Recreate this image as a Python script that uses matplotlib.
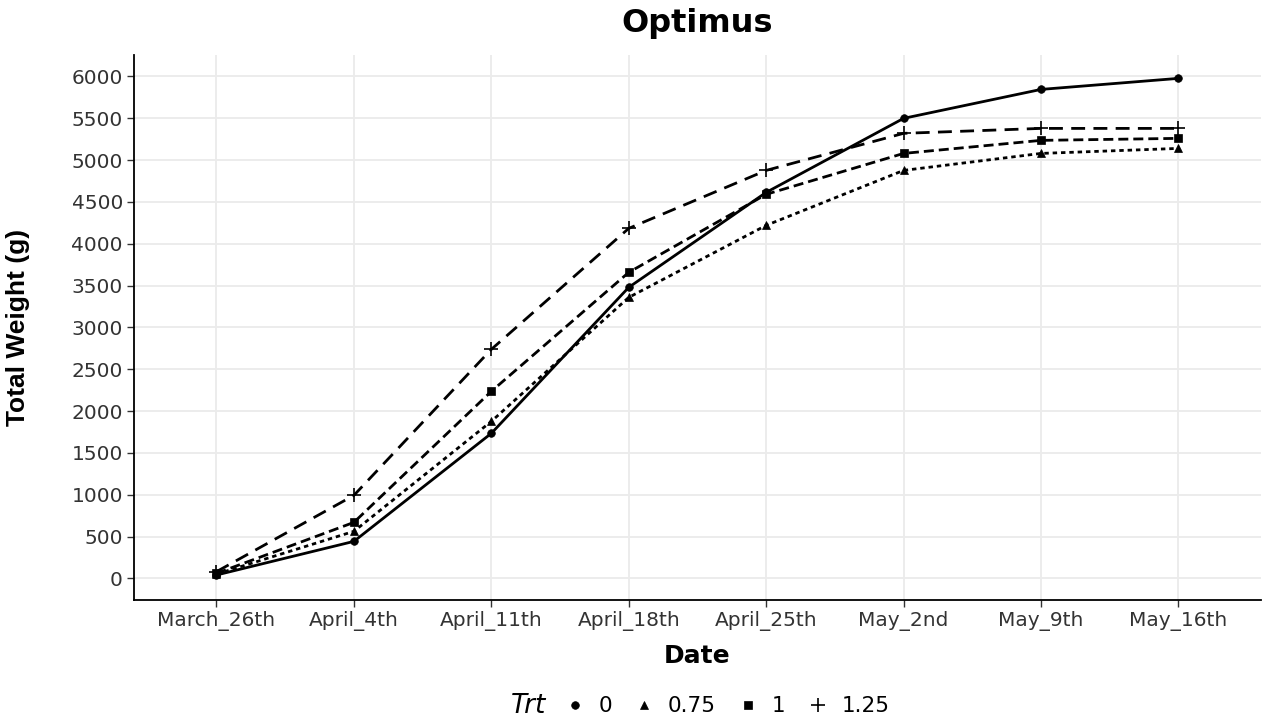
import matplotlib.pyplot as plt
from matplotlib.lines import Line2D
from matplotlib.offsetbox import HPacker

plt.rcParams['font.family'] = ['DejaVu Sans']

dates = ['March_26th', 'April_4th', 'April_11th', 'April_18th',
         'April_25th', 'May_2nd', 'May_9th', 'May_16th']
trt_labels = ['0', '0.75', '1', '1.25']
w_0 = [40, 442, 1733, 3478, 4613, 5498, 5844, 5976]
w_075 = [50, 562, 1876, 3358, 4219, 4876, 5079, 5139]
w_1 = [60, 669, 2235, 3657, 4590, 5079, 5235, 5259]
w_125 = [80, 992, 2737, 4183, 4876, 5319, 5378, 5378]

series = [w_0, w_075, w_1, w_125]
markers = ['o', '^', 's', '+']
msizes = [5.5, 5.5, 5.5, 10]
dashes = [None, (1.6, 1.4), (3.6, 1.8), (5, 3)]

fig = plt.figure(figsize=(12.69, 7.19), dpi=100)
ax = fig.add_axes([0.1056, 0.165, 0.888, 0.758])

x = list(range(len(dates)))
for vals, m, ms, d in zip(series, markers, msizes, dashes):
    line, = ax.plot(x, vals, color='black', lw=2, marker=m, markersize=ms,
                    markeredgewidth=1.2 if m == '+' else 0.5)
    if d is not None:
        line.set_dashes(d)

ax.set_xlim(-0.6, 7.6)
ax.set_ylim(-263, 6251)
ax.set_xticks(x)
ax.set_xticklabels(dates)
ax.set_yticks(range(0, 6001, 500))
ax.grid(True, color='#ebebeb', lw=1.3)
ax.set_axisbelow(True)
for s in ['top', 'right']:
    ax.spines[s].set_visible(False)
for s in ['left', 'bottom']:
    ax.spines[s].set_linewidth(1.3)
ax.tick_params(labelsize=14.5, colors='#333333', length=5, width=1, labelcolor='#333333')
ax.tick_params(axis='y', pad=3)
ax.tick_params(axis='x', pad=3)
ax.set_xlabel('Date', fontsize=18, fontweight='bold', labelpad=9)
ax.set_ylabel('Total Weight (g)', fontsize=19, fontweight='bold',
              family='Liberation Sans', labelpad=30)
ax.set_title('Optimus', fontsize=23, fontweight='bold', pad=17)

handles = [Line2D([], [], color='black', lw=0, marker=m, markersize=ms,
                  markeredgewidth=1.2 if m == '+' else 0.5)
           for m, ms in zip(markers, msizes)]
leg = fig.legend(handles, trt_labels, loc='lower center', bbox_to_anchor=(0.552, -0.027),
                 ncol=4, frameon=False, fontsize=15.5, handlelength=0.8,
                 handletextpad=0.7, columnspacing=1.1,
                 title='Trt', title_fontproperties={'size': 19, 'style': 'italic'})
box = leg._legend_box
box._children = [HPacker(children=box._children, align='center', pad=0, sep=14)]

fig.savefig('out.png', dpi=100)
